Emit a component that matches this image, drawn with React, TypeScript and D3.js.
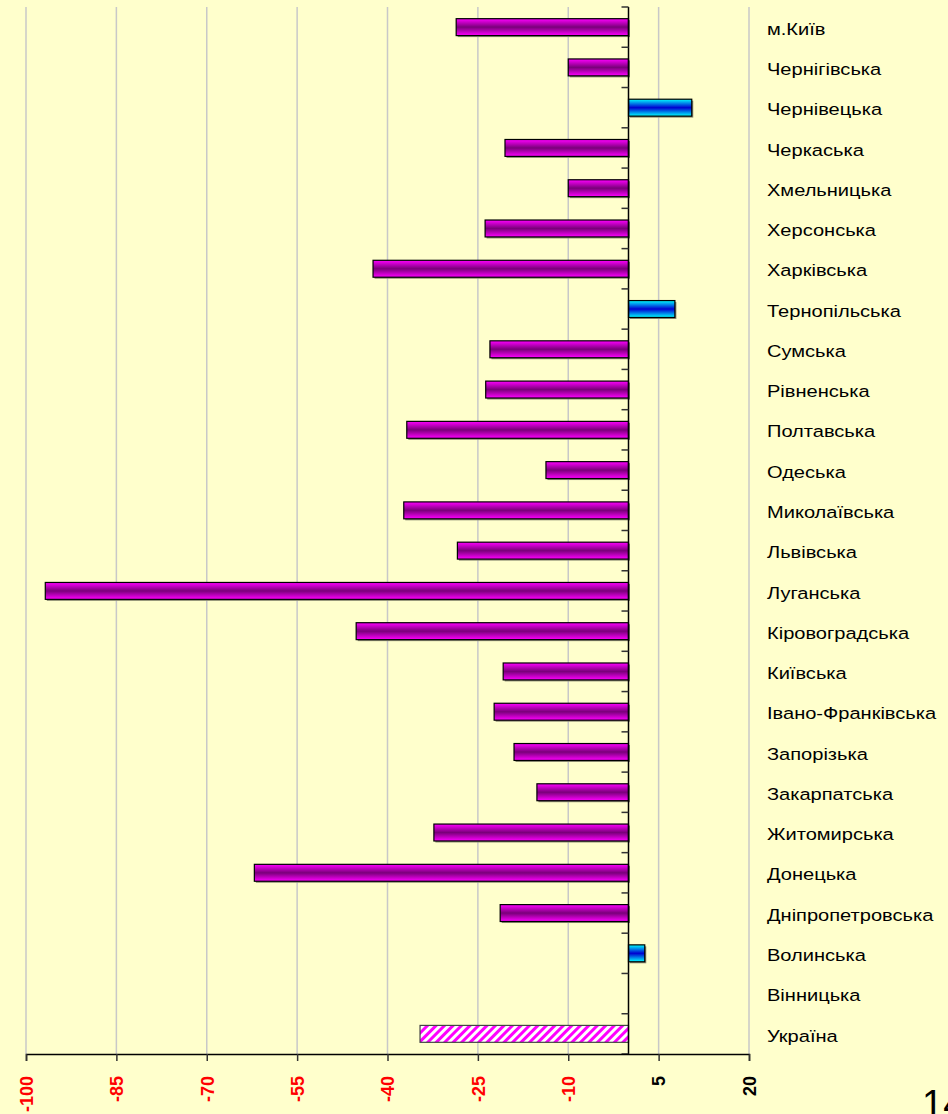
import * as d3 from "d3";
import { useEffect, useRef } from "react";

// regions, top to bottom
const regions = [
  "м.Київ",
  "Чернігівська",
  "Чернівецька",
  "Черкаська",
  "Хмельницька",
  "Херсонська",
  "Харківська",
  "Тернопільська",
  "Сумська",
  "Рівненська",
  "Полтавська",
  "Одеська",
  "Миколаївська",
  "Львівська",
  "Луганська",
  "Кіровоградська",
  "Київська",
  "Івано-Франківська",
  "Запорізька",
  "Закарпатська",
  "Житомирська",
  "Донецька",
  "Дніпропетровська",
  "Волинська",
  "Вінницька",
  "Україна",
];

const values = [
  -28.6, -10.0, 10.5, -20.5, -10.0, -23.8, -42.4, 7.7, -23.0, -23.7, -36.8,
  -13.7, -37.3, -28.4, -96.8, -45.2, -20.8, -22.3, -19.0, -15.2, -32.3, -62.1,
  -21.3, 2.7, 0, -34.6,
];

const totalName = "Україна";
const xTicks = [-100, -85, -70, -55, -40, -25, -10, 5, 20];
const pageNumber = "14";

const W = 948;
const H = 1114;
const FONT = "'Liberation Sans', Arial, sans-serif";

const App = () => {
  const svgRef = useRef(null);

  useEffect(() => {
    const svgEl = d3.select(svgRef.current);
    svgEl.selectAll("*").remove();

    const plotTop = 7;
    const plotBottom = 1054;

    const x = d3.scaleLinear().domain([-100, 20]).range([26, 749]);
    const y = d3
      .scaleBand()
      .domain(regions)
      .range([plotTop, plotBottom])
      .paddingInner(0.58)
      .paddingOuter(0.29);
    const step = y.step();

    // defs: gradients + hatch
    const defs = svgEl.append("defs");
    const grad = (id, edge, mid) => {
      const g = defs
        .append("linearGradient")
        .attr("id", id)
        .attr("x1", 0)
        .attr("y1", 0)
        .attr("x2", 0)
        .attr("y2", 1);
      g.append("stop").attr("offset", "0%").attr("stop-color", edge);
      g.append("stop").attr("offset", "50%").attr("stop-color", mid);
      g.append("stop").attr("offset", "100%").attr("stop-color", edge);
    };
    grad("gMag", "#ff00ff", "#7a007a");
    grad("gBlue", "#00ffff", "#0000d0");

    const pat = defs
      .append("pattern")
      .attr("id", "hatch")
      .attr("patternUnits", "userSpaceOnUse")
      .attr("width", 6)
      .attr("height", 6)
      .attr("patternTransform", "rotate(45)");
    pat.append("rect").attr("width", 6).attr("height", 6).attr("fill", "#ffffff");
    pat.append("rect").attr("width", 3).attr("height", 6).attr("fill", "#ff00ff");

    // background
    svgEl.append("rect").attr("width", W).attr("height", H).attr("fill", "#ffffcc");

    // grid lines
    svgEl
      .append("g")
      .selectAll("line")
      .data(xTicks)
      .join("line")
      .attr("x1", (d) => x(d))
      .attr("x2", (d) => x(d))
      .attr("y1", plotTop)
      .attr("y2", plotBottom)
      .attr("stroke", "#c8c8c8")
      .attr("stroke-width", 1.5);

    // bars
    const rows = regions.map((name, i) => ({ name, value: values[i] }));
    const bars = svgEl.append("g");
    const barX = (d) => Math.min(x(0), x(d.value));
    const barW = (d) => Math.abs(x(d.value) - x(0));
    const visible = rows.filter((d) => d.value !== 0);

    bars
      .selectAll(".shadow")
      .data(visible.filter((d) => d.name !== totalName))
      .join("rect")
      .attr("x", (d) => barX(d) + 1.5)
      .attr("y", (d) => y(d.name) + 1.5)
      .attr("width", barW)
      .attr("height", y.bandwidth())
      .attr("fill", "#8a8a70");

    bars
      .selectAll(".bar")
      .data(visible)
      .join("rect")
      .attr("x", barX)
      .attr("y", (d) => y(d.name))
      .attr("width", barW)
      .attr("height", y.bandwidth())
      .attr("fill", (d) =>
        d.name === totalName ? "url(#hatch)" : d.value > 0 ? "url(#gBlue)" : "url(#gMag)"
      )
      .attr("stroke", (d) => (d.name === totalName ? "#444" : "#000"))
      .attr("stroke-width", 1.2);

    // category axis at zero
    const zero = x(0);
    svgEl
      .append("line")
      .attr("x1", zero)
      .attr("x2", zero)
      .attr("y1", plotTop)
      .attr("y2", plotBottom)
      .attr("stroke", "#000")
      .attr("stroke-width", 1.5);
    svgEl
      .append("g")
      .selectAll("line")
      .data(d3.range(regions.length + 1))
      .join("line")
      .attr("x1", zero - 7)
      .attr("x2", zero)
      .attr("y1", (i) => plotTop + i * step)
      .attr("y2", (i) => plotTop + i * step)
      .attr("stroke", "#333")
      .attr("stroke-width", 1.5);

    // category labels (the source text is stretched horizontally)
    svgEl
      .append("g")
      .selectAll("text")
      .data(regions)
      .join("text")
      .attr("transform", (d) => `translate(767,${y(d) + y.bandwidth() / 2}) scale(1.18,1)`)
      .attr("dy", "0.45em")
      .attr("font-family", FONT)
      .attr("font-size", 17)
      .attr("fill", "#000")
      .text((d) => d);

    // bottom axis
    const xAxis = d3
      .axisBottom(x)
      .tickValues(xTicks)
      .tickSize(7)
      .tickFormat((v) => `${v}`);
    const xg = svgEl.append("g").attr("transform", `translate(0,${plotBottom})`).call(xAxis);
    xg.select(".domain").attr("stroke", "#000").attr("stroke-width", 1.5);
    xg.selectAll("line").attr("stroke", "#333").attr("stroke-width", 1.5);
    xg.selectAll("text")
      .attr("transform", "rotate(-90)")
      .attr("x", -22)
      .attr("y", 0)
      .attr("dy", "0.35em")
      .attr("text-anchor", "end")
      .attr("font-family", FONT)
      .attr("font-weight", "bold")
      .attr("font-size", 18)
      .attr("fill", (d) => (d < 0 ? "#ff0000" : "#000"));

    // page number (cut by the right edge, as in the source)
    svgEl
      .append("text")
      .attr("x", 922)
      .attr("y", 1117)
      .attr("font-family", FONT)
      .attr("font-size", 38)
      .attr("fill", "#000")
      .text(pageNumber);
  }, []);

  return (
    <div style={{ position: "absolute", left: 0, top: 0 }}>
      <svg ref={svgRef} width={W} height={H} style={{ display: "block" }}></svg>
    </div>
  );
};

export default App;
